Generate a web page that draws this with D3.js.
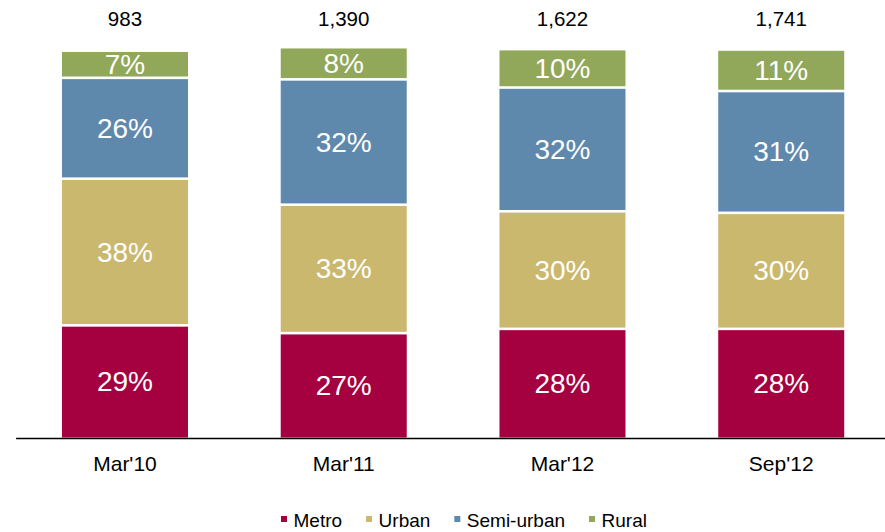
<!DOCTYPE html>
<html>
<head>
<meta charset="utf-8">
<script src="https://cdn.jsdelivr.net/npm/d3@7"></script>
<style>
  body { margin: 0; background: #fff; }
  text { font-family: "Liberation Sans", Arial, sans-serif; }
</style>
</head>
<body>
<div id="chart"></div>
<script>
// data
var periods = ["Mar'10", "Mar'11", "Mar'12", "Sep'12"];
var totals = ["983", "1,390", "1,622", "1,741"];
var seriesNames = ["Metro", "Urban", "Semi-urban", "Rural"];
var metro = [28.9, 26.9, 28.0, 28.0];
var urban = [37.8, 33.1, 30.3, 29.9];
var semiUrban = [26.0, 32.3, 31.9, 31.4];
var rural = [7.0, 8.3, 9.9, 10.7];

var colors = ["#A5003F", "#CAB86E", "#5E88AC", "#91A75A"];

var width = 885, height = 532;

var rows = periods.map(function(p, i) {
    return { period: p, "Metro": metro[i], "Urban": urban[i], "Semi-urban": semiUrban[i], "Rural": rural[i] };
});

var svg = d3.select("#chart")
    .append("svg")
    .attr("width", width)
    .attr("height", height);

// x band
var x = d3.scaleBand()
    .domain(periods)
    .range([15.6, 890.6])
    .paddingInner(0.424)
    .paddingOuter(0.212);

// y linear
var y = d3.scaleLinear()
    .domain([0, 100])
    .range([437.5, 49.5]);

var color = d3.scaleOrdinal().domain(seriesNames).range(colors);

var stacked = d3.stack().keys(seriesNames)(rows);
var gap = 1.3;

// bars
var layers = svg.append("g")
    .selectAll("g")
    .data(stacked)
    .enter()
    .append("g")
    .attr("fill", function(d) { return color(d.key); });

layers.selectAll("rect")
    .data(function(d) { return d; })
    .enter()
    .append("rect")
    .attr("x", function(d) { return x(d.data.period); })
    .attr("width", x.bandwidth())
    .attr("y", function(d) { return y(d[1]) + gap; })
    .attr("height", function(d) {
        var bottom = d[0] === 0 ? y(d[0]) : y(d[0]) - gap;
        return bottom - (y(d[1]) + gap);
    });

// percent labels
layers.selectAll("text")
    .data(function(d) { return d; })
    .enter()
    .append("text")
    .attr("x", function(d) { return x(d.data.period) + x.bandwidth() / 2; })
    .attr("y", function(d) { return (y(d[0]) + y(d[1])) / 2 + 9.5; })
    .attr("text-anchor", "middle")
    .attr("fill", "#fff")
    .style("font-size", "28px")
    .text(function(d) { return Math.round(d[1] - d[0]) + "%"; });

// totals on top
svg.append("g")
    .selectAll("text")
    .data(periods)
    .enter()
    .append("text")
    .attr("x", function(d) { return x(d) + x.bandwidth() / 2; })
    .attr("y", 26)
    .attr("text-anchor", "middle")
    .attr("fill", "#000")
    .style("font-size", "20.5px")
    .text(function(d, i) { return totals[i]; });

// x axis
var xAxis = svg.append("g")
    .attr("transform", "translate(0,438)")
    .call(d3.axisBottom(x).tickSize(0).tickSizeOuter(0));
xAxis.select(".domain").attr("stroke", "#000").attr("stroke-width", 1.3);
xAxis.selectAll("text")
    .attr("y", 33)
    .attr("dy", 0)
    .attr("fill", "#000")
    .style("font-family", "'Liberation Sans', Arial, sans-serif")
    .style("font-size", "21px");

// legend
var legend = svg.append("g");
var lx = 281;
seriesNames.forEach(function(name) {
    legend.append("rect")
        .attr("x", lx)
        .attr("y", 516)
        .attr("width", 6)
        .attr("height", 6)
        .attr("fill", color(name));
    var t = legend.append("text")
        .attr("x", lx + 12.5)
        .attr("y", 526.7)
        .attr("fill", "#000")
        .style("font-size", "19px")
        .text(name);
    lx = lx + 12.5 + t.node().getComputedTextLength() + 24;
});
</script>
</body>
</html>
